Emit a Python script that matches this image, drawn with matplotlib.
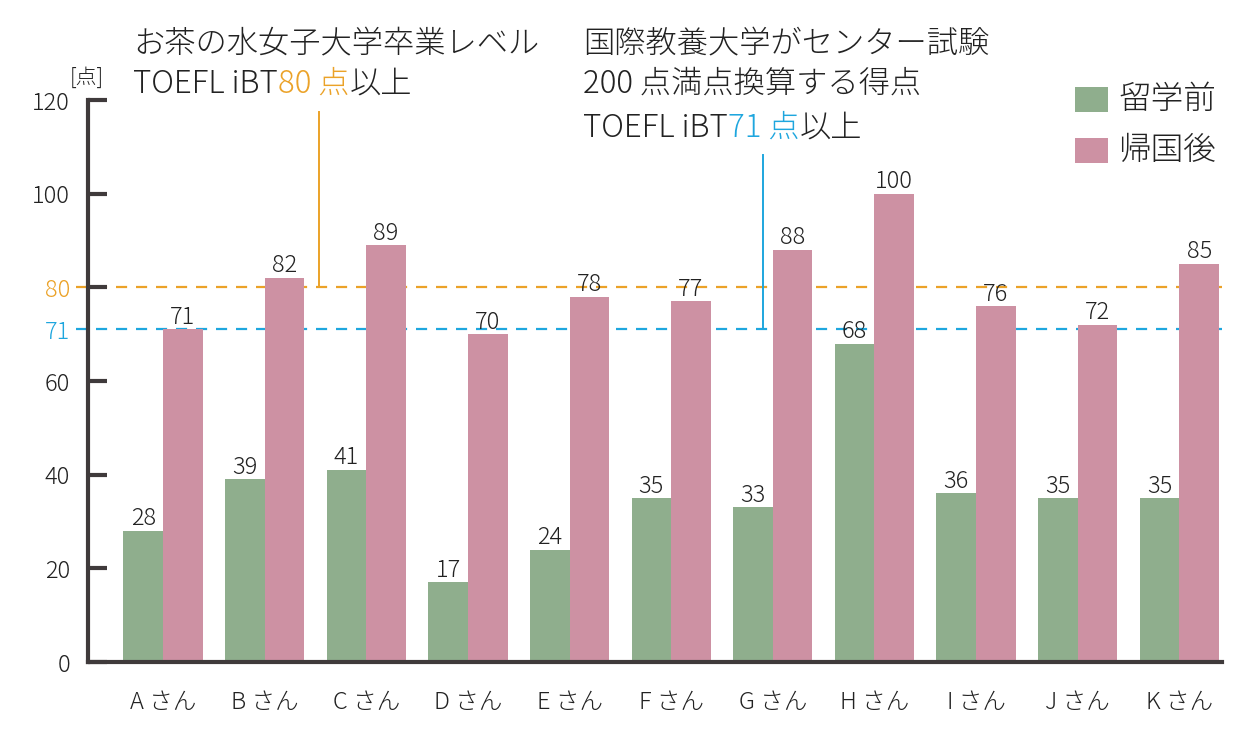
import matplotlib
matplotlib.use("Agg")
import matplotlib.pyplot as plt
from matplotlib.patches import Rectangle
import numpy as np

plt.rcParams['font.family'] = ['Noto Sans CJK JP', 'DejaVu Sans']
plt.rcParams['font.weight'] = 'light'

categories = ["A さん", "B さん", "C さん", "D さん", "E さん", "F さん",
              "G さん", "H さん", "I さん", "J さん", "K さん"]
before = [28, 39, 41, 17, 24, 35, 33, 68, 36, 35, 35]
after = [71, 82, 89, 70, 78, 77, 88, 100, 76, 72, 85]
series_names = ["留学前", "帰国後"]
series_colors = ["#8fae8d", "#cd91a3"]
ref_values = [80, 71]
ref_colors = ["#eba228", "#1ea6de"]
yticks = [0, 20, 40, 60, 71, 80, 100, 120]

W, H = 1250, 750
fig = plt.figure(figsize=(12.5, 7.5), dpi=100)
ax = fig.add_axes([88 / W, 1 - 662 / H, (1222 - 88) / W, (662 - 100) / H])

x = np.arange(len(categories))
bw = 0.39
ax.bar(x - bw / 2, before, bw, color=series_colors[0], zorder=2, linewidth=0)
ax.bar(x + bw / 2, after, bw, color=series_colors[1], zorder=2, linewidth=0)

ax.set_xlim(-0.738, 10.42)
ax.set_ylim(0, 120)

# reference dashed lines
for v, c in zip(ref_values, ref_colors):
    ax.plot([-0.856, 10.42], [v, v], color=c, lw=1.6, ls=(0, (5, 4)),
            clip_on=False, zorder=1)

dark = '#222222'
# value labels
for xs, vals in ((x - bw / 2, before), (x + bw / 2, after)):
    for xi, v in zip(xs, vals):
        ax.annotate(str(v), (xi, v), xytext=(0, 4), textcoords='offset points',
                    ha='center', va='baseline', fontsize=17, color=dark,
                    zorder=3)

# axes styling
for s in ('top', 'right'):
    ax.spines[s].set_visible(False)
for s in ('left', 'bottom'):
    ax.spines[s].set_linewidth(3)
    ax.spines[s].set_color('#3f3a3b')
ax.set_yticks(yticks)
ax.set_yticklabels([str(t) for t in yticks])
ax.tick_params(axis='y', direction='in', length=14, width=3, color='#3f3a3b',
               labelsize=17, pad=13, labelcolor=dark)
for t, lab, tk in zip(yticks, ax.get_yticklabels(), ax.yaxis.get_major_ticks()):
    if t in ref_values:
        lab.set_color(ref_colors[ref_values.index(t)])
    if t == 71:
        tk.tick1line.set_visible(False)
ax.set_xticks(x)
ax.set_xticklabels(categories)
ax.tick_params(axis='x', length=0, labelsize=17, pad=20, labelcolor=dark)

fig.text(70 / W, 1 - 78 / H, "[点]", fontsize=15, color=dark,
         ha='left', va='center')

# annotation connectors
ax.plot([1.535, 1.535], [80, 117.5], color=ref_colors[0], lw=1.4, clip_on=False)
ax.plot([5.9, 5.9], [71, 108.3], color=ref_colors[1], lw=1.4, clip_on=False)

FS = 22.5

def chain(px, py, parts):
    prev = fig.text(px / W, 1 - py / H, parts[0][0], fontsize=FS,
                    color=parts[0][1], ha='left', va='center')
    for s, c in parts[1:]:
        prev = ax.annotate(s, xy=(1, 0), xycoords=prev, ha='left', va='bottom',
                           fontsize=FS, color=c, annotation_clip=False)

chain(133, 43, [("お茶の水女子大学卒業レベル", dark)])
chain(133, 84, [("TOEFL iBT", dark), ("80 点", ref_colors[0]), ("以上", dark)])
chain(583, 43, [("国際教養大学がセンター試験", dark)])
chain(583, 84, [("200 点満点換算する得点", dark)])
chain(583, 128, [("TOEFL iBT", dark), ("71 点", ref_colors[1]), ("以上", dark)])

# legend
for i, (name, col) in enumerate(zip(series_names, series_colors)):
    yc = 100 + i * 51
    fig.patches.append(Rectangle((1075 / W, 1 - (yc + 12) / H), 33 / W, 25 / H,
                                 transform=fig.transFigure, color=col, lw=0))
    fig.text(1118 / W, 1 - yc / H, name, fontsize=23.5, color=dark,
             ha='left', va='center')

fig.savefig("out.png", dpi=100)
